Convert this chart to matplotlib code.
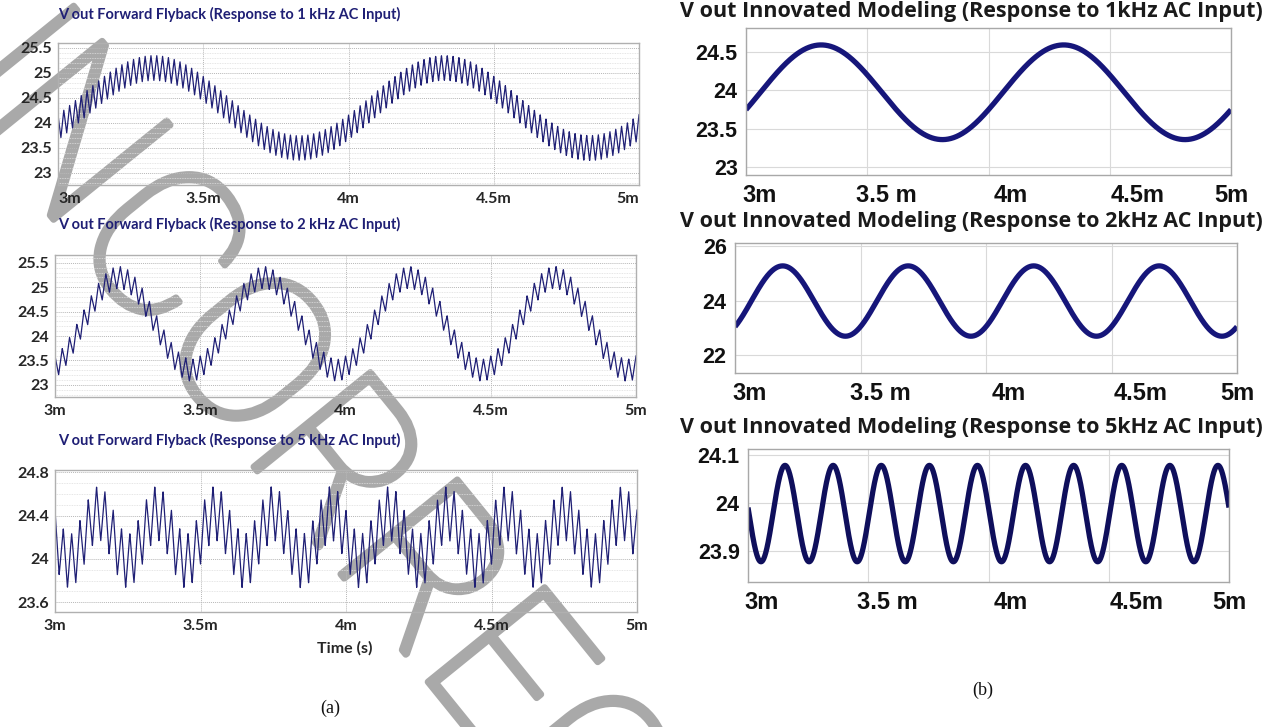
import numpy as np
import matplotlib
matplotlib.use("Agg")
import matplotlib.pyplot as plt
from matplotlib import patheffects
from matplotlib.ticker import MultipleLocator
from matplotlib.transforms import offset_copy

# time axis in ms (3m .. 5m)
T_START, T_END = 3.0, 5.0
xtick_vals = [3.0, 3.5, 4.0, 4.5, 5.0]

# (a) forward flyback simulation: values
flyback_titles = [
    "V out Forward Flyback (Response to 1 kHz AC Input)",
    "V out Forward Flyback (Response to 2 kHz AC Input)",
    "V out Forward Flyback (Response to 5 kHz AC Input)",
]
flyback_freq_khz = [1.0, 2.0, 5.0]
flyback_offset = [24.30, 24.25, 24.20]
flyback_amp = [0.80, 0.95, 0.22]
flyback_peak_ms = [3.33, 3.22, 3.15]
flyback_ripple_pp = [0.50, 0.45, 0.50]
flyback_ripple_khz = [50.0, 40.0, 35.0]
flyback_yticks = [
    [23, 23.5, 24, 24.5, 25, 25.5],
    [23, 23.5, 24, 24.5, 25, 25.5],
    [23.6, 24.0, 24.4, 24.8],
]
flyback_yticklabels = [
    ["23", "23.5", "24", "24.5", "25", "25.5"],
    ["23", "23.5", "24", "24.5", "25", "25.5"],
    ["23.6", "24", "24.4", "24.8"],
]
flyback_ylim = [(22.76, 25.60), (22.75, 25.66), (23.51, 24.82)]
flyback_xlabels = ["3m", "3.5m", "4m", "4.5m", "5m"]

# (b) innovated model
model_titles = [
    "V out Innovated Modeling (Response to 1kHz AC Input)",
    "V out Innovated Modeling (Response to 2kHz AC Input)",
    "V out Innovated Modeling (Response to 5kHz AC Input)",
]
model_freq_khz = [1.0, 2.0, 5.0]
model_offset = [23.975, 23.99, 23.978]
model_amp = [0.615, 1.29, 0.10]
model_peak_ms = [3.31, 3.19, 3.154]
model_yticks = [[23, 23.5, 24, 24.5], [22, 24, 26], [23.9, 24.0, 24.1]]
model_yticklabels = [["23", "23.5", "24", "24.5"], ["22", "24", "26"], ["23.9", "24", "24.1"]]
model_ylim = [(22.90, 24.81), (21.35, 26.12), (23.836, 24.112)]
model_xlabels = ["3m", "3.5 m", "4m", "4.5m", "5m"]
model_label_shift = [0.058, 0.08, 0.092, 0.116, 0.0]

# axes boxes in pixels (left, top, right, bottom) of a 1272x727 canvas
W, H = 1272, 727
left_boxes = [(58, 43, 639, 185), (55, 255, 636, 397), (55, 470, 637, 612)]
left_label_edges = [True, False, False]
right_boxes = [(746, 28, 1231, 175), (735, 243, 1237, 373), (748, 449, 1229, 582)]
left_title_y = [14, 224, 440]
right_title_y = [12, 221, 428]

NAVY = "#1f1f75"
t = np.linspace(T_START, T_END, 8000)


def box_to_rect(b):
    l, tp, r, bt = b
    return [l / W, 1 - bt / H, (r - l) / W, (bt - tp) / H]


def triangle(x):
    return 4 * np.abs((x % 1.0) - 0.5) - 1.0


fig = plt.figure(figsize=(12.72, 7.27), dpi=100)

for i in range(3):
    ax = fig.add_axes(box_to_rect(left_boxes[i]))
    v = (flyback_offset[i]
         + flyback_amp[i] * np.cos(2 * np.pi * flyback_freq_khz[i] * (t - flyback_peak_ms[i]))
         + 0.5 * flyback_ripple_pp[i] * triangle(flyback_ripple_khz[i] * t))
    ax.plot(t, v, color=NAVY, lw=0.9)
    ax.set_xlim(T_START, T_END)
    ax.set_ylim(*flyback_ylim[i])
    ax.set_xticks(xtick_vals)
    ax.set_xticklabels([])
    ax.set_yticks(flyback_yticks[i])
    ax.set_yticklabels(flyback_yticklabels[i], fontfamily="Lato", fontweight="bold",
                       fontsize=11.5, color="#262626")
    ax.yaxis.set_minor_locator(MultipleLocator(0.1))
    ax.tick_params(length=0, which="both", pad=4)
    ax.grid(True, which="major", color="#b8b8b8", lw=0.7, ls=(0, (1, 1)))
    ax.grid(True, which="minor", axis="y", color="#dedede", lw=0.6, ls=(0, (1, 1)))
    for s in ax.spines.values():
        s.set_color("#b0b0b0")
        s.set_linewidth(1.0)
    ax.set_facecolor("none")
    lab_tr = offset_copy(ax.get_xaxis_transform(), fig=fig, y=-5, units="points")
    for k, (xv, lab) in enumerate(zip(xtick_vals, flyback_xlabels)):
        ha = "center"
        if left_label_edges[i] and k == 0:
            ha = "left"
        elif left_label_edges[i] and k == len(xtick_vals) - 1:
            ha = "right"
        ax.text(xv, 0, lab, transform=lab_tr, ha=ha, va="top",
                fontfamily="Lato", fontweight="bold", fontsize=11.5, color="#262626")
    fig.text(58 / W, 1 - left_title_y[i] / H, flyback_titles[i],
             ha="left", va="center", fontfamily="Lato", fontweight="bold",
             fontsize=10.5, color=NAVY)

fig.text(345 / W, 1 - 648 / H, "Time (s)", ha="center", va="center",
         fontfamily="Lato", fontweight="bold", fontsize=11.5, color="#262626")

for i in range(3):
    ax = fig.add_axes(box_to_rect(right_boxes[i]))
    v = model_offset[i] + model_amp[i] * np.cos(2 * np.pi * model_freq_khz[i] * (t - model_peak_ms[i]))
    ax.plot(t, v, color="#16167a" if i < 2 else "#0f0f5c", lw=3.8, solid_capstyle="butt")
    ax.set_xlim(T_START, T_END)
    ax.set_ylim(*model_ylim[i])
    ax.set_xticks(xtick_vals)
    ax.set_xticklabels([])
    ax.set_yticks(model_yticks[i])
    ax.set_yticklabels(model_yticklabels[i], fontfamily="Liberation Sans", fontweight="bold",
                       fontsize=15.5, color="#111111")
    ax.tick_params(length=0, pad=6)
    ax.grid(True, color="#d9d9d9", lw=0.8)
    for s in ax.spines.values():
        s.set_color("#a8a8a8")
        s.set_linewidth(1.0)
    ax.set_facecolor("none")
    lab_tr = offset_copy(ax.get_xaxis_transform(), fig=fig, y=-15, units="points")
    for xv, lab, dx in zip(xtick_vals, model_xlabels, model_label_shift):
        ax.text(xv + dx, 0, lab, transform=lab_tr, ha="center", va="center",
                fontfamily="Liberation Sans", fontweight="bold", fontsize=17, color="#111111")
    fig.text(971 / W, 1 - right_title_y[i] / H, model_titles[i], ha="center", va="center",
             fontfamily="Open Sans", fontweight="bold", fontsize=15.5, color="#1a1a1a")

fig.text(330 / W, 1 - 708 / H, "(a)", ha="center", va="center",
         fontfamily="Liberation Serif", fontsize=13, color="#111111")
fig.text(983 / W, 1 - 690 / H, "(b)", ha="center", va="center",
         fontfamily="Liberation Serif", fontsize=13, color="#111111")

# grey proof watermark across the left half, behind the curves and labels
fig.text(-0.0912, 0.986, "UNCORRECTED", rotation=-51, rotation_mode="anchor",
         ha="left", va="baseline", fontsize=152, fontfamily=["Roboto", "DejaVu Sans"],
         fontweight="light", color="#a9a9a9", zorder=-1,
         path_effects=[patheffects.withStroke(linewidth=4.7, foreground="#a9a9a9")])

fig.savefig("out.png", dpi=100)
